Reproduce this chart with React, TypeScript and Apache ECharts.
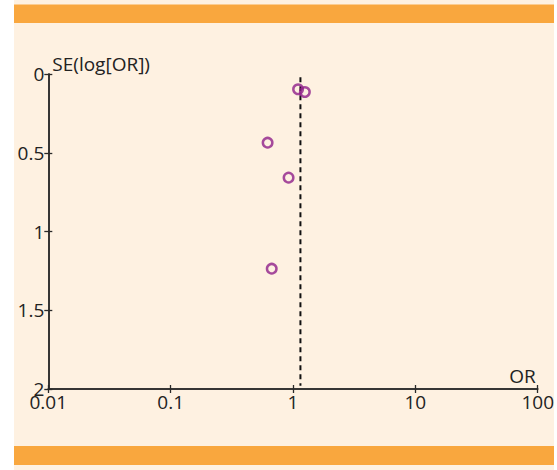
import React, { useEffect, useRef } from "react";
import * as echarts from "echarts";

const orValues = [1.1, 1.25, 0.62, 0.92, 0.67];
const seValues = [0.097, 0.114, 0.436, 0.658, 1.236];
const pooledOR = 1.15;
const pooledLine = [0.02, 1.98];
const xTicks = [0.01, 0.1, 1, 10, 100];
const yTickLabels = ["0", "0.5", "1", "1.5", "2"];

const FONT = "'Open Sans', 'DejaVu Sans', sans-serif";
const AXIS_COLOR = "#2a2a2a";

export default function App() {
  const ref = useRef<HTMLDivElement>(null);
  useEffect(() => {
    if (!ref.current) return;
    const chart = echarts.init(ref.current, undefined, { renderer: "svg" });
    const points = orValues.map((v, i) => [v, seValues[i]]);
    const xLabel = (v: number) => {
      const r = xTicks.find((t) => Math.abs(Math.log10(t) - Math.log10(v)) < 1e-6);
      return r !== undefined ? String(r) : "";
    };
    const yLabel = (v: number) => {
      const idx = Math.round(v / 0.5);
      return yTickLabels[idx] ?? "";
    };
    const textStyle = { color: "#222", fontFamily: FONT, fontSize: 19 };
    const baseX = {
      type: "log" as const,
      logBase: 10,
      min: 0.01,
      max: 100,
      position: "bottom" as const,
      splitLine: { show: false },
      axisLine: { show: true, onZero: false, lineStyle: { color: AXIS_COLOR, width: 1.5 } },
    };
    const baseY = {
      type: "value" as const,
      min: 0,
      max: 2,
      interval: 0.5,
      inverse: true,
      position: "left" as const,
      splitLine: { show: false },
      axisLine: { show: true, onZero: false, lineStyle: { color: AXIS_COLOR, width: 1.5 } },
    };
    chart.setOption({
      animation: false,
      backgroundColor: "#ffffff",
      graphic: {
        elements: [
          { type: "rect", z: -10, shape: { x: 14, y: 0, width: 540, height: 470 }, style: { fill: "#FEF1E1" } },
          { type: "rect", z: -9, shape: { x: 14, y: 4.5, width: 540, height: 18.5 }, style: { fill: "#F9A73E" } },
          { type: "rect", z: -9, shape: { x: 14, y: 446, width: 540, height: 19 }, style: { fill: "#F9A73E" } },
        ],
      },
      grid: { left: 48.3, right: 15.3, top: 74, bottom: 81 },
      xAxis: [
        {
          ...baseX,
          name: "OR",
          nameLocation: "end",
          nameGap: -2,
          nameTextStyle: { ...textStyle, align: "right", verticalAlign: "bottom", padding: [0, 0, 4, 0] },
          axisTick: { show: true, length: 4, lineStyle: { color: AXIS_COLOR, width: 1.3 } },
          axisLabel: { ...textStyle, margin: 3, formatter: xLabel, showMinLabel: true, showMaxLabel: true },
        },
        {
          ...baseX,
          axisTick: { show: true, inside: true, length: 4, lineStyle: { color: AXIS_COLOR, width: 1.3 } },
          axisLabel: { show: false },
        },
      ],
      yAxis: [
        {
          ...baseY,
          name: "SE(log[OR])",
          nameLocation: "start",
          nameGap: 1,
          nameTextStyle: { ...textStyle, align: "left", verticalAlign: "bottom", padding: [0, 0, 0, 4] },
          axisTick: { show: true, length: 4, lineStyle: { color: AXIS_COLOR, width: 1.3 } },
          axisLabel: { ...textStyle, margin: 4, formatter: yLabel },
        },
        {
          ...baseY,
          axisTick: { show: true, inside: true, length: 4, lineStyle: { color: AXIS_COLOR, width: 1.3 } },
          axisLabel: { show: false },
        },
      ],
      series: [
        {
          type: "line",
          xAxisIndex: 0,
          yAxisIndex: 0,
          data: pooledLine.map((s) => [pooledOR, s]),
          showSymbol: false,
          symbol: "none",
          lineStyle: { color: "#111", width: 2, type: [5, 4] },
          z: 3,
        },
        {
          type: "scatter",
          xAxisIndex: 0,
          yAxisIndex: 0,
          data: points,
          symbol: "circle",
          symbolSize: 9.5,
          itemStyle: { color: "rgba(0,0,0,0)", borderColor: "#8E1F8A", borderWidth: 2.5 },
          z: 4,
        },
      ],
    });
    return () => chart.dispose();
  }, []);
  return (
    <div
      ref={ref}
      style={{ position: "fixed", left: 0, top: 0, width: 557, height: 470 }}
    />
  );
}
